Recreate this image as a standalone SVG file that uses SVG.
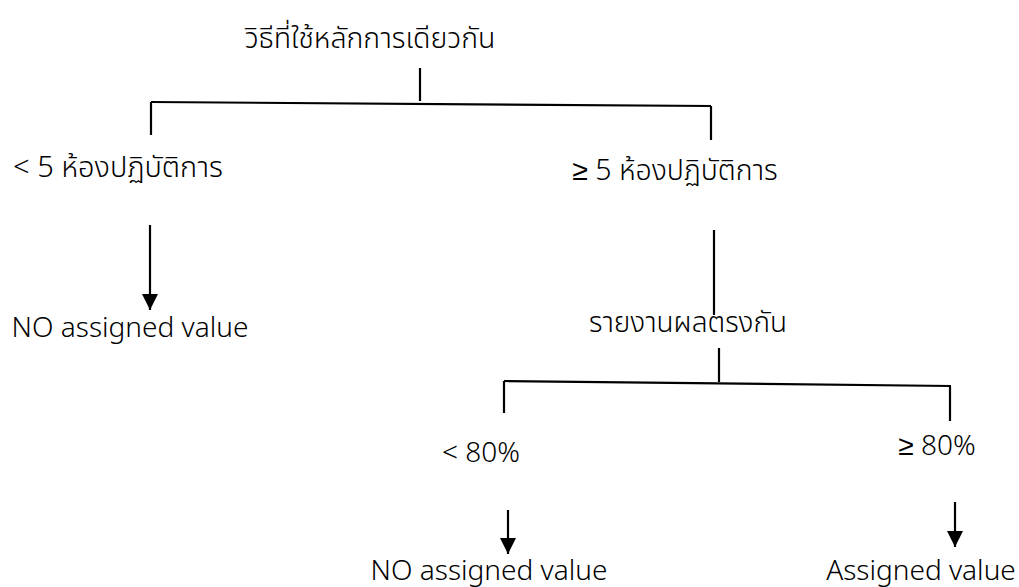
<svg xmlns="http://www.w3.org/2000/svg" width="1019" height="587" viewBox="0 0 1019 587">
<style>
.t{font-family:"Noto Sans Thai","Leelawadee UI","Noto Sans","DejaVu Sans",sans-serif;font-size:28px;font-weight:300;fill:#000;text-anchor:middle}
.c{stroke:#000;stroke-width:2.2;fill:none}
</style>
<defs>
<marker id="ah" markerUnits="userSpaceOnUse" markerWidth="16" markerHeight="16" viewBox="0 0 15 15" refX="15" refY="7.5" orient="auto">
<path d="M0,0 L15,7.5 L0,15 z" fill="#000"/>
</marker>
</defs>
<rect width="1019" height="587" fill="#fff"/>
<g id="connectors">
<line class="c" x1="420" y1="68" x2="420" y2="101"/>
<line class="c" x1="151" y1="102" x2="711" y2="106"/>
<line class="c" x1="151" y1="102" x2="151" y2="135"/>
<line class="c" x1="711" y1="106" x2="711" y2="140"/>
<line class="c" x1="150" y1="225" x2="150" y2="310" marker-end="url(#ah)"/>
<line class="c" x1="714" y1="230" x2="714" y2="315"/>
<line class="c" x1="719" y1="348" x2="719" y2="382"/>
<line class="c" x1="504" y1="381" x2="951" y2="386"/>
<line class="c" x1="504" y1="381" x2="504" y2="413"/>
<line class="c" x1="950" y1="386" x2="950" y2="421"/>
<line class="c" x1="508" y1="510" x2="508" y2="554" marker-end="url(#ah)"/>
<line class="c" x1="955" y1="502" x2="955" y2="547" marker-end="url(#ah)"/>
</g>
<g id="n-root"><text class="t" x="370" y="48" style="font-size:28.5px">วิธีที่ใช้หลักการเดียวกัน</text></g>
<g id="n-lt5"><text class="t" x="118" y="177" style="font-size:29px">&lt; 5 ห้องปฏิบัติการ</text></g>
<g id="n-ge5"><text class="t" x="675" y="180" style="font-size:28.5px">≥ 5 ห้องปฏิบัติการ</text></g>
<g id="n-no1"><text class="t" x="130" y="337">NO assigned value</text></g>
<g id="n-match"><text class="t" x="688" y="332">รายงานผลตรงกัน</text></g>
<g id="n-lt80"><text class="t" x="481" y="462">&lt; 80%</text></g>
<g id="n-ge80"><text class="t" x="937" y="455">≥ 80%</text></g>
<g id="n-no2"><text class="t" x="489" y="580">NO assigned value</text></g>
<g id="n-yes"><text class="t" x="921" y="580">Assigned value</text></g>
</svg>
